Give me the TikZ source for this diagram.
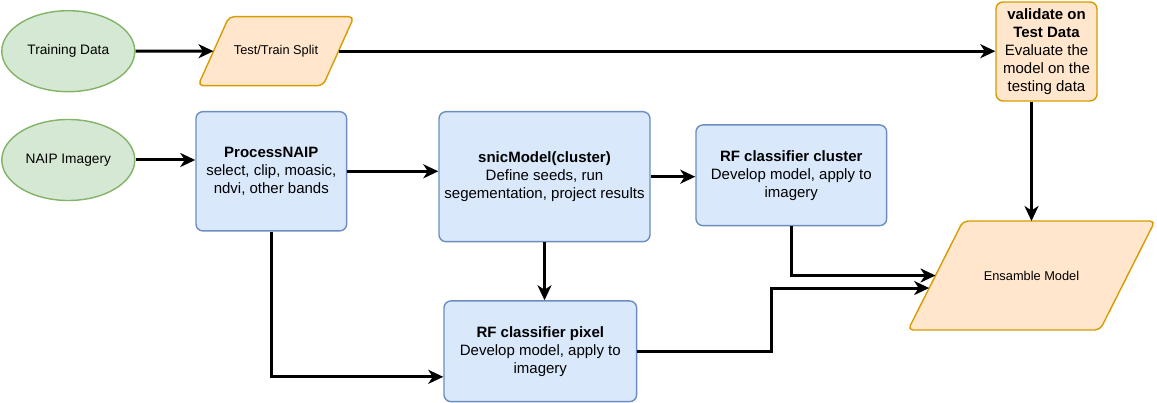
\documentclass[tikz,border=0pt]{standalone}
\usepackage{fontspec}
\setmainfont{Liberation Sans}
\usetikzlibrary{shapes.geometric,arrows.meta,calc}
\definecolor{gfill}{HTML}{D5E8D4}
\definecolor{gline}{HTML}{82B366}
\definecolor{ofill}{HTML}{FFE6CC}
\definecolor{oline}{HTML}{D79B00}
\definecolor{bfill}{HTML}{DAE8FC}
\definecolor{bline}{HTML}{6C8EBF}
\begin{document}
\begin{tikzpicture}[x=1pt,y=-1pt,
 startnode/.style={ellipse, draw=gline, fill=gfill, line width=1.4pt, minimum width=133pt, minimum height=81pt, inner sep=0pt, font=\fontsize{13.7}{16}\selectfont},
 procbox/.style={rectangle, rounded corners=7pt, draw=bline, fill=bfill, line width=1.4pt, inner sep=0pt, align=center, font=\fontsize{15}{18}\selectfont},
 valbox/.style={procbox, draw=oline, fill=ofill},
 paraline/.style={draw=oline, fill=ofill, line width=1.4pt, rounded corners=5pt, line join=round},
 paratext/.style={inner sep=0pt, font=\fontsize{12.8}{15}\selectfont},
 arr/.style={line width=3pt, -{Stealth[length=15pt,width=14pt,inset=4.5pt]}}
]
\useasboundingbox (0,0) rectangle (1157,403);

\node[startnode] (train) at (68.3,51.2) {Training Data};
\node[startnode] (naip) at (68.3,160) {NAIP Imagery};

% Test/Train Split parallelogram
\coordinate (splitBL) at (198,85.7);
\coordinate (splitTL) at (229,16.7);
\coordinate (splitTR) at (354,16.7);
\coordinate (splitBR) at (323,85.7);
\path[paraline] (splitBL) -- (splitTL) -- (splitTR) -- (splitBR) -- cycle;
\node[paratext] (split) at (276,51.2) {Test/Train Split};
\coordinate (splitW) at ($(splitBL)!0.5!(splitTL)$);
\coordinate (splitE) at ($(splitBR)!0.5!(splitTR)$);

% Ensamble Model parallelogram
\coordinate (ensBL) at (908,330);
\coordinate (ensTL) at (963,221);
\coordinate (ensTR) at (1155,221);
\coordinate (ensBR) at (1100,330);
\path[paraline] (ensBL) -- (ensTL) -- (ensTR) -- (ensBR) -- cycle;
\node[paratext] (ens) at (1031.5,275.5) {Ensamble Model};
\coordinate (ensW) at ($(ensBL)!0.5!(ensTL)$);
\coordinate (ensin2) at ($(ensBL)!0.385!(ensTL)$);
\coordinate (ensN) at (ens.center |- ensTL);

\node[valbox, minimum width=101pt, minimum height=99pt] (val) at (1046.5,51.5)
 {\textbf{validate on}\\\textbf{Test Data}\\Evaluate the\\model on the\\testing data};

\node[procbox, minimum width=150.7pt, minimum height=119.3pt] (proc) at (271.3,171.3)
 {\textbf{ProcessNAIP}\\select, clip, moasic,\\ndvi, other bands};
\node[procbox, minimum width=211pt, minimum height=130pt] (snic) at (544.5,176.7)
 {\textbf{snicModel(cluster)}\\Define seeds, run\\segementation, project results};
\node[procbox, minimum width=190.7pt, minimum height=100.7pt] (clu) at (791.3,175.3)
 {\textbf{RF classifier cluster}\\Develop model, apply to\\imagery};
\node[procbox, minimum width=192.7pt, minimum height=100.7pt] (pix) at (540.3,351.3)
 {\textbf{RF classifier pixel}\\Develop model, apply to\\imagery};

\coordinate (pixin) at ($(pix.south west)!0.25!(pix.north west)$);

\draw[arr] (train.east) -- (splitW);
\draw[arr] (splitE) -- (val.west |- splitE);
\draw[arr] (val.south -| ensN) -- (ensN);
\draw[arr] (naip.east) -- (proc.west |- naip.east);
\draw[arr] (proc.east) -- (snic.west |- proc.east);
\draw[arr] (snic.east) -- (clu.west |- snic.east);
\draw[arr] (snic.south) -- (snic.south |- pix.north);
\draw[arr] (proc.south) |- (pixin);
\draw[arr] (clu.south) |- (ensW);
\draw[arr] (pix.east) -- ++(134.3,0) |- (ensin2);
\end{tikzpicture}
\end{document}
